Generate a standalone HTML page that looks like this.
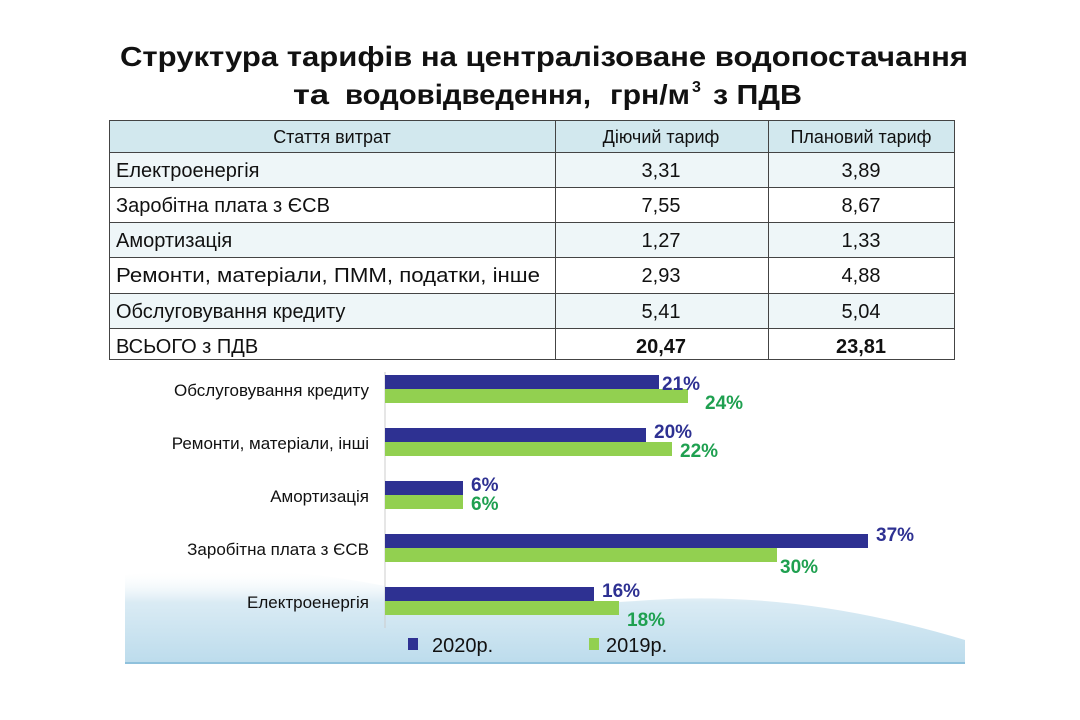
<!DOCTYPE html>
<html><head><meta charset="utf-8"><style>
html,body{margin:0;padding:0;background:#fff;}
svg{display:block;font-family:"Liberation Sans","DejaVu Sans",sans-serif;}
</style></head><body>
<svg width="1080" height="720" viewBox="0 0 1080 720" xmlns="http://www.w3.org/2000/svg">
<defs>
<linearGradient id="wg" x1="0" y1="0" x2="0" y2="1">
<stop offset="0" stop-color="#ffffff" stop-opacity="0"/>
<stop offset="0.35" stop-color="#d6e9f3"/>
<stop offset="1" stop-color="#b5d8ea"/>
</linearGradient>
</defs>
<rect width="1080" height="720" fill="#fff"/>
<path d="M125 575 Q250 560 380 585 Q520 610 650 600 Q800 590 965 640 L965 663 L125 663 Z" fill="url(#wg)" opacity="0.9"/>
<rect x="125" y="662" width="840" height="2" fill="#8fc1dc"/>
<!-- title -->
<g font-size="28" font-weight="bold" fill="#111">
<text x="544" y="66" text-anchor="middle" textLength="848" lengthAdjust="spacingAndGlyphs">Структура тарифів на централізоване водопостачання</text>
<text x="293" y="104" textLength="36" lengthAdjust="spacingAndGlyphs">та</text>
<text x="345" y="104" textLength="246" lengthAdjust="spacingAndGlyphs">водовідведення,</text>
<text x="610" y="104" textLength="80" lengthAdjust="spacingAndGlyphs">грн/м</text>
<text x="692" y="92" font-size="16">3</text>
<text x="713" y="104" textLength="89" lengthAdjust="spacingAndGlyphs">з ПДВ</text>
</g>
<!-- table -->
<rect x="109" y="120" width="846" height="32" fill="#d2e8ee"/>
<rect x="109" y="152" width="846" height="35" fill="#eef6f8"/>
<rect x="109" y="187" width="846" height="35" fill="#ffffff"/>
<rect x="109" y="222" width="846" height="35" fill="#eef6f8"/>
<rect x="109" y="257" width="846" height="36" fill="#ffffff"/>
<rect x="109" y="293" width="846" height="35" fill="#eef6f8"/>
<rect x="109" y="328" width="846" height="32" fill="#ffffff"/>
<g stroke="#444" stroke-width="1" fill="none">
<rect x="109.5" y="120.5" width="845" height="239"/>
<line x1="109" y1="152.5" x2="955" y2="152.5"/>
<line x1="109" y1="187.5" x2="955" y2="187.5"/>
<line x1="109" y1="222.5" x2="955" y2="222.5"/>
<line x1="109" y1="257.5" x2="955" y2="257.5"/>
<line x1="109" y1="293.5" x2="955" y2="293.5"/>
<line x1="109" y1="328.5" x2="955" y2="328.5"/>
<line x1="555.5" y1="120" x2="555.5" y2="360"/>
<line x1="768.5" y1="120" x2="768.5" y2="360"/>
</g>
<g font-size="18" fill="#111">
<text x="332" y="143" text-anchor="middle">Стаття витрат</text>
<text x="661" y="143" text-anchor="middle">Діючий тариф</text>
<text x="861" y="143" text-anchor="middle">Плановий тариф</text>
<g font-size="20">
<text x="116" y="177">Електроенергія</text>
<text x="116" y="212">Заробітна плата з ЄСВ</text>
<text x="116" y="247">Амортизація</text>
<text x="116" y="282" textLength="424" lengthAdjust="spacingAndGlyphs">Ремонти, матеріали, ПММ, податки, інше</text>
<text x="116" y="318">Обслуговування кредиту</text>
<text x="116" y="353">ВСЬОГО з ПДВ</text>
<g text-anchor="middle">
<text x="661" y="177">3,31</text><text x="861" y="177">3,89</text>
<text x="661" y="212">7,55</text><text x="861" y="212">8,67</text>
<text x="661" y="247">1,27</text><text x="861" y="247">1,33</text>
<text x="661" y="282">2,93</text><text x="861" y="282">4,88</text>
<text x="661" y="318">5,41</text><text x="861" y="318">5,04</text>
<text x="661" y="353" font-weight="bold">20,47</text><text x="861" y="353" font-weight="bold">23,81</text>
</g></g></g>
<!-- bar chart -->
<line x1="385" y1="372" x2="385" y2="628" stroke="#ccc"/>
<g fill="#2e3192">
<rect x="385" y="375" width="274" height="14"/>
<rect x="385" y="428" width="261" height="14"/>
<rect x="385" y="481" width="78" height="14"/>
<rect x="385" y="534" width="483" height="14"/>
<rect x="385" y="587" width="209" height="14"/>
</g>
<g fill="#92d050">
<rect x="385" y="389" width="303" height="14"/>
<rect x="385" y="442" width="287" height="14"/>
<rect x="385" y="495" width="78" height="14"/>
<rect x="385" y="548" width="392" height="14"/>
<rect x="385" y="601" width="234" height="14"/>
</g>
<g font-size="17" text-anchor="end" fill="#111">
<text x="369" y="396">Обслуговування кредиту</text>
<text x="369" y="449">Ремонти, матеріали, інші</text>
<text x="369" y="502">Амортизація</text>
<text x="369" y="555">Заробітна плата з ЄСВ</text>
<text x="369" y="608">Електроенергія</text>
</g>
<g font-size="19" font-weight="bold" fill="#2e3192">
<text x="662" y="390">21%</text>
<text x="654" y="438">20%</text>
<text x="471" y="491">6%</text>
<text x="876" y="541">37%</text>
<text x="602" y="597">16%</text>
</g>
<g font-size="19" font-weight="bold" fill="#1fa050">
<text x="705" y="409">24%</text>
<text x="680" y="457">22%</text>
<text x="471" y="510">6%</text>
<text x="780" y="573">30%</text>
<text x="627" y="626">18%</text>
</g>
<rect x="408" y="638" width="10" height="12" fill="#2e3192"/>
<text x="432" y="652" font-size="20" fill="#111">2020р.</text>
<rect x="589" y="638" width="10" height="12" fill="#92d050"/>
<text x="606" y="652" font-size="20" fill="#111">2019р.</text>
</svg>
</body></html>
